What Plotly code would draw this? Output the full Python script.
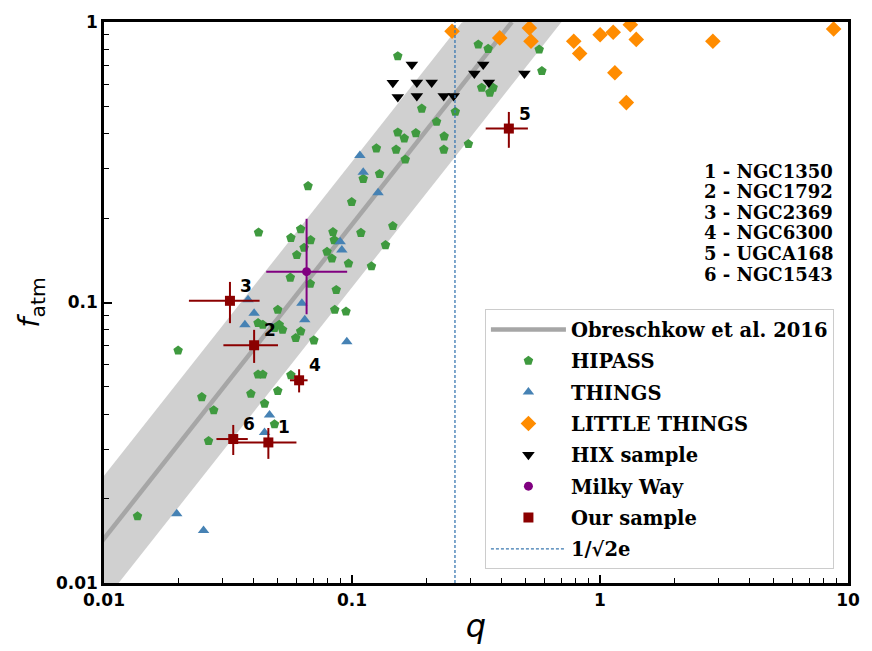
import numpy as np
import plotly.graph_objects as go

# ---- data ----------------------------------------------------------------
hipass_q = [0.1530, 0.3230, 0.3540, 0.5687, 0.5829, 0.3333, 0.3596, 0.3707, 0.1911, 0.2610,
            0.2193, 0.1530, 0.1625, 0.1809, 0.2353, 0.2948, 0.1254, 0.1506, 0.2345, 0.1640,
            0.1292, 0.1110, 0.0997, 0.0665, 0.1461, 0.1086, 0.0838, 0.0848, 0.0420, 0.0621,
            0.0567, 0.0681, 0.0641, 0.0599, 0.0793, 0.0830, 0.0968, 0.1198, 0.1365, 0.0679,
            0.0564, 0.0864, 0.0852, 0.0946, 0.0621, 0.0702, 0.0502, 0.0418, 0.0437, 0.0487,
            0.0525, 0.0509, 0.0593, 0.0199, 0.0418, 0.0437, 0.0567, 0.0391, 0.0502, 0.0248,
            0.0277, 0.0444, 0.0487, 0.0264, 0.01365]
hipass_f = [0.7556, 0.8309, 0.8023, 0.7977, 0.6686, 0.5834, 0.5601, 0.5834, 0.4913, 0.4784,
            0.4409, 0.4041, 0.3847, 0.4018, 0.3911, 0.3672, 0.3545, 0.3508, 0.3508, 0.3233,
            0.2874, 0.2760, 0.2281, 0.2600, 0.1875, 0.1771, 0.1785, 0.1669, 0.1776, 0.1826,
            0.1700, 0.1669, 0.1567, 0.1476, 0.1517, 0.1436, 0.1378, 0.1347, 0.1602, 0.1166,
            0.1227, 0.1109, 0.0942, 0.0929, 0.0789, 0.0733, 0.0942, 0.0845, 0.0833, 0.0811,
            0.0800, 0.0833, 0.0747, 0.0674, 0.0554, 0.0554, 0.0551, 0.0473, 0.0484, 0.0460,
            0.0413, 0.0436, 0.0368, 0.0321, 0.0173]

things_q = [0.1076, 0.1110, 0.1274, 0.0896, 0.0910, 0.0381, 0.0403, 0.0370, 0.0628, 0.0645,
            0.0953, 0.0465, 0.0444, 0.01965, 0.0252]
things_f = [0.334, 0.2914, 0.246, 0.1646, 0.154, 0.1022, 0.0916, 0.0833, 0.0994, 0.0868,
            0.0724, 0.0397, 0.0344, 0.01767, 0.0154]

little_q = [0.2532, 0.3942, 0.519, 0.527, 0.7838, 0.8279, 1.001, 1.1305, 1.325, 1.400,
            1.148, 1.277, 2.852, 8.75]
little_f = [0.927, 0.8776, 0.952, 0.854, 0.854, 0.772, 0.901, 0.919, 0.978, 0.867,
            0.659, 0.516, 0.854, 0.944]

hix_q = [0.1743, 0.1461, 0.1530, 0.1826, 0.1826, 0.2095, 0.2344, 0.2570, 0.3382, 0.3114,
         0.3563, 0.4956]
hix_f = [0.706, 0.6077, 0.5408, 0.608, 0.545, 0.608, 0.545, 0.545, 0.706, 0.6556,
         0.608, 0.6556]

mw_q = [0.0656]
mw_f = [0.1288]
mw_q_err_plus = [0.030]
mw_q_err_minus = [0.0205]
mw_f_err_plus = [0.070]
mw_f_err_minus = [0.038]

sample_ids = ["1", "2", "3", "4", "5", "6"]
sample_names = ["NGC1350", "NGC1792", "NGC2369", "NGC6300", "UGCA168", "NGC1543"]
sample_q = [0.046, 0.0403, 0.0322, 0.0612, 0.429, 0.0332]
sample_f = [0.0317, 0.0704, 0.1014, 0.0528, 0.417, 0.0326]
sample_q_err = [0.0137, 0.010, 0.0102, 0.005, 0.083, 0.0048]
sample_f_err = [0.004, 0.0095, 0.017, 0.005, 0.061, 0.004]

# Obreschkow et al. (2016): f_atm = min(1, A q^b), band of +/- 0.2 dex in q
obr_amp = 2.5
obr_slope = 1.12
obr_scatter_dex = 0.2
q_crit = 1.0 / (np.sqrt(2.0) * np.e)

x_ticks = [0.01, 0.1, 1, 10]
x_ticklabels = ["0.01", "0.1", "1", "10"]
y_ticks = [0.01, 0.1, 1]
y_ticklabels = ["0.01", "0.1", "1"]

# ---- figure ----------------------------------------------------------------
def relation(q):
    return np.minimum(1.0, obr_amp * q ** obr_slope)


# the relation saturates at f_atm = 1; the line stops there
q_sat = (1.0 / obr_amp) ** (1.0 / obr_slope)
q_line = np.logspace(-2.3, np.log10(q_sat), 200)
q_band = np.logspace(-2.3, np.log10(q_sat) + obr_scatter_dex, 300)
f_lo = relation(q_band / 10 ** obr_scatter_dex)
f_hi = relation(q_band * 10 ** obr_scatter_dex)

fig = go.Figure()

fig.add_trace(go.Scatter(x=q_band, y=f_lo, mode="lines", line=dict(width=0),
                         showlegend=False, hoverinfo="skip"))
fig.add_trace(go.Scatter(x=q_band, y=f_hi, mode="lines", line=dict(width=0),
                         fill="tonexty", fillcolor="rgba(200,200,200,0.85)",
                         showlegend=False, hoverinfo="skip"))
fig.add_trace(go.Scatter(x=q_line, y=relation(q_line), mode="lines",
                         line=dict(color="#a6a6a6", width=4.5),
                         name="Obreschkow et al. 2016", legendgroup="g1"))

fig.add_trace(go.Scatter(x=hipass_q, y=hipass_f, mode="markers", name="HIPASS",
                         legendgroup="g2",
                         marker=dict(symbol="pentagon", size=10, color="#3f9a3f")))
fig.add_trace(go.Scatter(x=things_q, y=things_f, mode="markers", name="THINGS",
                         legendgroup="g3",
                         marker=dict(symbol="triangle-up", size=10, color="#4682b4")))
fig.add_trace(go.Scatter(x=little_q, y=little_f, mode="markers", name="LITTLE THINGS",
                         legendgroup="g4",
                         marker=dict(symbol="diamond", size=12, color="#ff8c00")))
fig.add_trace(go.Scatter(x=hix_q, y=hix_f, mode="markers", name="HIX sample",
                         legendgroup="g5",
                         marker=dict(symbol="triangle-down", size=11, color="black")))
fig.add_trace(go.Scatter(x=mw_q, y=mw_f, mode="markers", name="Milky Way",
                         legendgroup="g6",
                         marker=dict(symbol="circle", size=9, color="#800080"),
                         error_x=dict(type="data", array=mw_q_err_plus,
                                      arrayminus=mw_q_err_minus, color="#800080",
                                      thickness=2, width=0),
                         error_y=dict(type="data", array=mw_f_err_plus,
                                      arrayminus=mw_f_err_minus, color="#800080",
                                      thickness=2, width=0)))
fig.add_trace(go.Scatter(x=sample_q, y=sample_f, mode="markers", name="Our sample",
                         legendgroup="g7",
                         marker=dict(symbol="square", size=10, color="#8b0000"),
                         error_x=dict(type="data", array=sample_q_err, color="#8b0000",
                                      thickness=2, width=0),
                         error_y=dict(type="data", array=sample_f_err, color="#8b0000",
                                      thickness=2, width=0)))
fig.add_trace(go.Scatter(x=[q_crit, q_crit], y=[0.01, 1], mode="lines",
                         name="1/√2e", legendgroup="g8",
                         line=dict(color="#3a78b0", width=1.3, dash="3px,2px")))

# numbered labels next to each galaxy of the sample
for sid, q, f in zip(sample_ids, sample_q, sample_f):
    fig.add_annotation(x=np.log10(q), y=np.log10(f), text=f"<b>{sid}</b>",
                       showarrow=False, xshift=16, yshift=15,
                       font=dict(family="DejaVu Sans", size=17, color="black"))

# key of the numbered galaxies, one line each
key_top = 0.734
key_step = 20.7 / 564.0
for i, (sid, name) in enumerate(zip(sample_ids, sample_names)):
    fig.add_annotation(xref="paper", yref="paper", x=0.982, y=key_top - i * key_step,
                       xanchor="right", yanchor="middle", showarrow=False,
                       text=f"<b>{sid} - {name}</b>",
                       font=dict(family="DejaVu Serif", size=18, color="black"))

tick_font = dict(family="DejaVu Sans", size=17, color="black")
axis_common = dict(
    type="log", showgrid=False, zeroline=False,
    showline=True, linecolor="black", linewidth=2.5, mirror=True,
    ticks="inside", ticklen=8, tickwidth=1.5, tickcolor="black",
    minor=dict(ticks="inside", ticklen=5, tickwidth=1.2, tickcolor="black",
               dtick="D1", showgrid=False),
)

fig.update_xaxes(range=[-2, 1], tickvals=x_ticks,
                 ticktext=[f"<b>{t}</b>" for t in x_ticklabels], tickfont=tick_font,
                 title=dict(text="<i>q</i>", standoff=6,
                            font=dict(family="DejaVu Sans", size=32, color="black")),
                 **axis_common)
fig.update_yaxes(range=[-2, 0], tickvals=y_ticks,
                 ticktext=[f"<b>{t}</b>" for t in y_ticklabels], tickfont=tick_font,
                 title=dict(text="<i>f</i><sub>atm</sub>", standoff=8,
                            font=dict(family="DejaVu Sans", size=29, color="black")),
                 **axis_common)

fig.update_layout(
    width=872, height=651,
    margin=dict(l=104, r=14, t=19, b=68),
    paper_bgcolor="white", plot_bgcolor="white",
    legend=dict(x=0.512, y=0.488, xanchor="left", yanchor="top",
                bgcolor="rgba(255,255,255,0.85)", bordercolor="#cccccc", borderwidth=1,
                font=dict(family="DejaVu Serif", size=19.5, color="black", weight="bold"),
                tracegroupgap=3, itemwidth=75),
)

fig.write_html("out.html")
